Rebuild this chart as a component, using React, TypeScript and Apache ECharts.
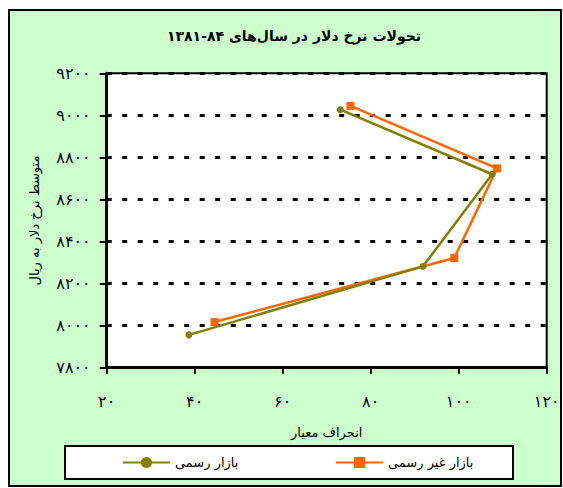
import React, { useEffect, useRef } from "react";
import * as echarts from "echarts";

// ---- data ----
const officialX = [38.7, 91.9, 107.6, 73.1];
const officialY = [7956, 8282, 8720, 9027];
const freeX = [44.5, 99.0, 108.7, 75.4];
const freeY = [8017, 8322, 8748, 9045];
const seriesNames = ["بازار رسمی", "بازار غیر رسمی"];
const titleText = "تحولات نرخ دلار در سال‌های ۸۴-۱۳۸۱";
const xAxisName = "انحراف معیار";
const yAxisName = "متوسط نرخ دلار به ریال";
const xTicks = [20, 40, 60, 80, 100, 120];
const yTicks = [7800, 8000, 8200, 8400, 8600, 8800, 9000, 9200];

const FONT = "DejaVu Sans";
const toFa = (n: number | string) =>
  String(n).replace(/\d/g, (d) => "۰۱۲۳۴۵۶۷۸۹"[+d]);

export default function App() {
  const ref = useRef<HTMLDivElement>(null);
  useEffect(() => {
    document.body.style.margin = "0";
    if (!ref.current) return;
    const chart = echarts.init(ref.current, undefined, { renderer: "svg" });
    const pairs = (xs: number[], ys: number[]) => xs.map((x, i) => [x, ys[i]]);
    chart.setOption({
      animation: false,
      backgroundColor: "#ffffff",
      graphic: [
        {
          type: "rect",
          z: -10,
          shape: { x: 9, y: 10, width: 552, height: 476 },
          style: { fill: "#ccffcc", stroke: "#000000", lineWidth: 2 },
        },
        {
          type: "rect",
          z: -5,
          shape: { x: 65, y: 446, width: 448, height: 33 },
          style: { fill: "#ffffff", stroke: "#000000", lineWidth: 2 },
        },
        {
          type: "text",
          x: 294,
          y: 36,
          style: {
            text: titleText,
            align: "center",
            verticalAlign: "middle",
            fontFamily: FONT,
            fontWeight: "bold",
            fontSize: 14,
            fill: "#000000",
          },
        },
      ],
      grid: {
        left: 106.7,
        top: 73.3,
        right: 16.3,
        bottom: 120.3,
        show: true,
        backgroundColor: "#ffffff",
        borderColor: "#000000",
        borderWidth: 2,
      },
      legend: [
        {
          data: [seriesNames[0]],
          left: 122,
          top: 456,
          padding: 0,
          itemWidth: 47,
          itemHeight: 14,
          textStyle: { fontFamily: FONT, fontSize: 13, color: "#000" },
        },
        {
          data: [seriesNames[1]],
          left: 335,
          top: 456,
          padding: 0,
          itemWidth: 47,
          itemHeight: 14,
          textStyle: { fontFamily: FONT, fontSize: 13, color: "#000" },
        },
      ],
      xAxis: {
        type: "value",
        min: xTicks[0],
        max: xTicks[xTicks.length - 1],
        interval: xTicks[1] - xTicks[0],
        name: xAxisName,
        nameLocation: "middle",
        nameGap: 58,
        nameTextStyle: { fontFamily: FONT, fontSize: 13, color: "#000" },
        axisLine: { show: true, onZero: false, lineStyle: { color: "#000", width: 3 } },
        axisTick: { show: true, length: 6, lineStyle: { color: "#000", width: 2 } },
        axisLabel: {
          margin: 26,
          fontFamily: FONT,
          fontSize: 16,
          color: "#000",
          formatter: (v: number) => toFa(v),
        },
        splitLine: { show: false },
      },
      yAxis: {
        type: "value",
        min: yTicks[0],
        max: yTicks[yTicks.length - 1],
        interval: yTicks[1] - yTicks[0],
        name: yAxisName,
        nameLocation: "middle",
        nameGap: 66,
        nameTextStyle: { fontFamily: FONT, fontSize: 13, color: "#000" },
        axisLine: { show: true, onZero: false, lineStyle: { color: "#000", width: 3 } },
        axisTick: { show: true, length: 7, lineStyle: { color: "#000", width: 2 } },
        axisLabel: {
          margin: 16,
          fontFamily: FONT,
          fontSize: 16,
          color: "#000",
          formatter: (v: number) => toFa(v),
        },
        splitLine: {
          show: true,
          lineStyle: { color: "#000", width: 3, type: [5, 10.5] },
        },
      },
      series: [
        {
          name: seriesNames[0],
          type: "line",
          data: pairs(officialX, officialY),
          symbol: "circle",
          symbolSize: 7,
          color: "#808000",
          lineStyle: { color: "#808000", width: 2.5 },
          itemStyle: { color: "#808000" },
          z: 3,
        },
        {
          name: seriesNames[1],
          type: "line",
          data: pairs(freeX, freeY),
          symbol: "rect",
          symbolSize: 8,
          color: "#ff6600",
          lineStyle: { color: "#ff6600", width: 2.5 },
          itemStyle: { color: "#ff6600" },
          z: 2,
        },
      ],
    });
    return () => chart.dispose();
  }, []);
  return <div ref={ref} style={{ width: 563, height: 488 }} />;
}
